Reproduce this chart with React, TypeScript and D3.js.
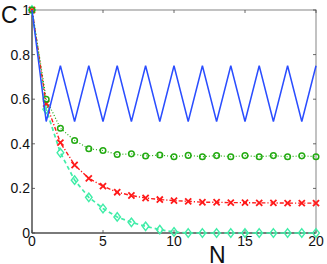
import React, { useRef, useEffect } from 'react'
import * as d3 from 'd3'

const steps = d3.range(0, 21)
const blueValues = [1, 0.5, 0.75, 0.5, 0.75, 0.5, 0.75, 0.5, 0.75, 0.5, 0.75, 0.5, 0.75, 0.5, 0.75, 0.5, 0.75, 0.5, 0.75, 0.5, 0.75]
const greenValues = [1, 0.6, 0.47, 0.415, 0.378, 0.37, 0.352, 0.355, 0.345, 0.35, 0.342, 0.348, 0.342, 0.347, 0.342, 0.347, 0.342, 0.347, 0.342, 0.346, 0.342]
const redValues = [1, 0.58, 0.405, 0.305, 0.245, 0.21, 0.183, 0.168, 0.157, 0.15, 0.145, 0.142, 0.138, 0.138, 0.136, 0.136, 0.135, 0.135, 0.134, 0.134, 0.134]
const cyanValues = [1, 0.555, 0.36, 0.237, 0.16, 0.11, 0.072, 0.048, 0.03, 0.015, 0.005, 0, 0, 0, 0, 0, 0, 0, 0, 0, 0]
const xTicks = [0, 5, 10, 15, 20]
const yTicks = [0, 0.2, 0.4, 0.6, 0.8, 1]

const Chart: React.FC = () => {
  const svgRef = useRef<SVGSVGElement | null>(null)

  useEffect(() => {
    const svg = d3.select(svgRef.current)
    svg.selectAll('*').remove()
    const width = 327
    const height = 264
    const margin = { top: 10, right: 11, bottom: 31, left: 32 }
    const font = 'Liberation Sans, Arial, sans-serif'

    const x = d3.scaleLinear().domain([0, 20]).range([margin.left, width - margin.right])
    const y = d3.scaleLinear().domain([0, 1]).range([height - margin.bottom, margin.top])

    const line = d3
      .line<number>()
      .x((_, i) => x(steps[i]))
      .y((d) => y(d))

    // frame
    svg
      .append('rect')
      .attr('x', x(0))
      .attr('y', y(1))
      .attr('width', x(20) - x(0))
      .attr('height', y(0) - y(1))
      .attr('fill', 'none')
      .attr('stroke', '#999')
      .attr('stroke-width', 1.2)
    svg
      .append('path')
      .attr('d', `M${x(0)},${y(1)}V${y(0)}H${x(20)}`)
      .attr('fill', 'none')
      .attr('stroke', '#333')
      .attr('stroke-width', 1)

    // ticks
    const tk = svg.append('g').attr('stroke', '#444').attr('stroke-width', 0.8)
    xTicks.forEach((t) => {
      tk.append('line').attr('x1', x(t)).attr('x2', x(t)).attr('y1', y(0)).attr('y2', y(0) - 3)
      tk.append('line').attr('x1', x(t)).attr('x2', x(t)).attr('y1', y(1)).attr('y2', y(1) + 3)
    })
    yTicks.forEach((t) => {
      tk.append('line').attr('x1', x(0)).attr('x2', x(0) + 3).attr('y1', y(t)).attr('y2', y(t))
      tk.append('line').attr('x1', x(20)).attr('x2', x(20) - 3).attr('y1', y(t)).attr('y2', y(t))
    })

    svg
      .append('g')
      .selectAll('text')
      .data(xTicks)
      .enter()
      .append('text')
      .attr('x', (d) => x(d))
      .attr('y', y(0) + 13)
      .attr('text-anchor', 'middle')
      .attr('font-family', font)
      .attr('font-size', 14)
      .attr('fill', '#111')
      .text((d) => d)
    svg
      .append('g')
      .selectAll('text')
      .data(yTicks)
      .enter()
      .append('text')
      .attr('x', x(0) - 2)
      .attr('y', (d) => y(d) + 5)
      .attr('text-anchor', 'end')
      .attr('font-family', font)
      .attr('font-size', 14)
      .attr('fill', '#111')
      .text((d) => d)

    svg
      .append('text')
      .attr('x', 1)
      .attr('y', 23)
      .attr('font-family', font)
      .attr('font-size', 23)
      .attr('fill', '#111')
      .text('C')
    svg
      .append('text')
      .attr('x', 209)
      .attr('y', 263)
      .attr('font-family', font)
      .attr('font-size', 23)
      .attr('fill', '#111')
      .text('N')

    // series
    const cyan = '#40eda8'
    svg
      .append('path')
      .datum(cyanValues)
      .attr('d', line)
      .attr('fill', 'none')
      .attr('stroke', cyan)
      .attr('stroke-width', 1.7)
      .attr('stroke-dasharray', '4,3')
    svg
      .append('g')
      .selectAll('path')
      .data(cyanValues)
      .enter()
      .append('path')
      .attr('d', d3.symbol(d3.symbolDiamond2, 38)())
      .attr('transform', (d, i) => `translate(${x(steps[i])},${y(d)}) scale(0.85,1.1)`)
      .attr('fill', 'none')
      .attr('stroke', cyan)
      .attr('stroke-width', 1.5)

    const red = '#ff1a1a'
    svg
      .append('path')
      .datum(redValues)
      .attr('d', line)
      .attr('fill', 'none')
      .attr('stroke', red)
      .attr('stroke-width', 1.4)
      .attr('stroke-dasharray', '4,2,1.2,2')
    svg
      .append('g')
      .selectAll('path')
      .data(redValues)
      .enter()
      .append('path')
      .attr('d', d3.symbol(d3.symbolTimes, 26)())
      .attr('transform', (d, i) => `translate(${x(steps[i])},${y(d)})`)
      .attr('fill', 'none')
      .attr('stroke', red)
      .attr('stroke-width', 1.8)

    const green = '#22aa11'
    svg
      .append('path')
      .datum(greenValues)
      .attr('d', line)
      .attr('fill', 'none')
      .attr('stroke', green)
      .attr('stroke-width', 1.2)
      .attr('stroke-dasharray', '1,2')
    svg
      .append('g')
      .selectAll('circle')
      .data(greenValues)
      .enter()
      .append('circle')
      .attr('cx', (_, i) => x(steps[i]))
      .attr('cy', (d) => y(d))
      .attr('r', 2.8)
      .attr('fill', 'none')
      .attr('stroke', green)
      .attr('stroke-width', 1.5)

    svg
      .append('path')
      .datum(blueValues)
      .attr('d', line)
      .attr('fill', 'none')
      .attr('stroke', '#2a4dff')
      .attr('stroke-width', 1.5)
  }, [])

  return (
    <svg
      ref={svgRef}
      width={327}
      height={264}
      style={{ position: 'fixed', top: 0, left: 0, display: 'block', background: '#fff' }}
    ></svg>
  )
}

export default function App() {
  return <Chart />
}
